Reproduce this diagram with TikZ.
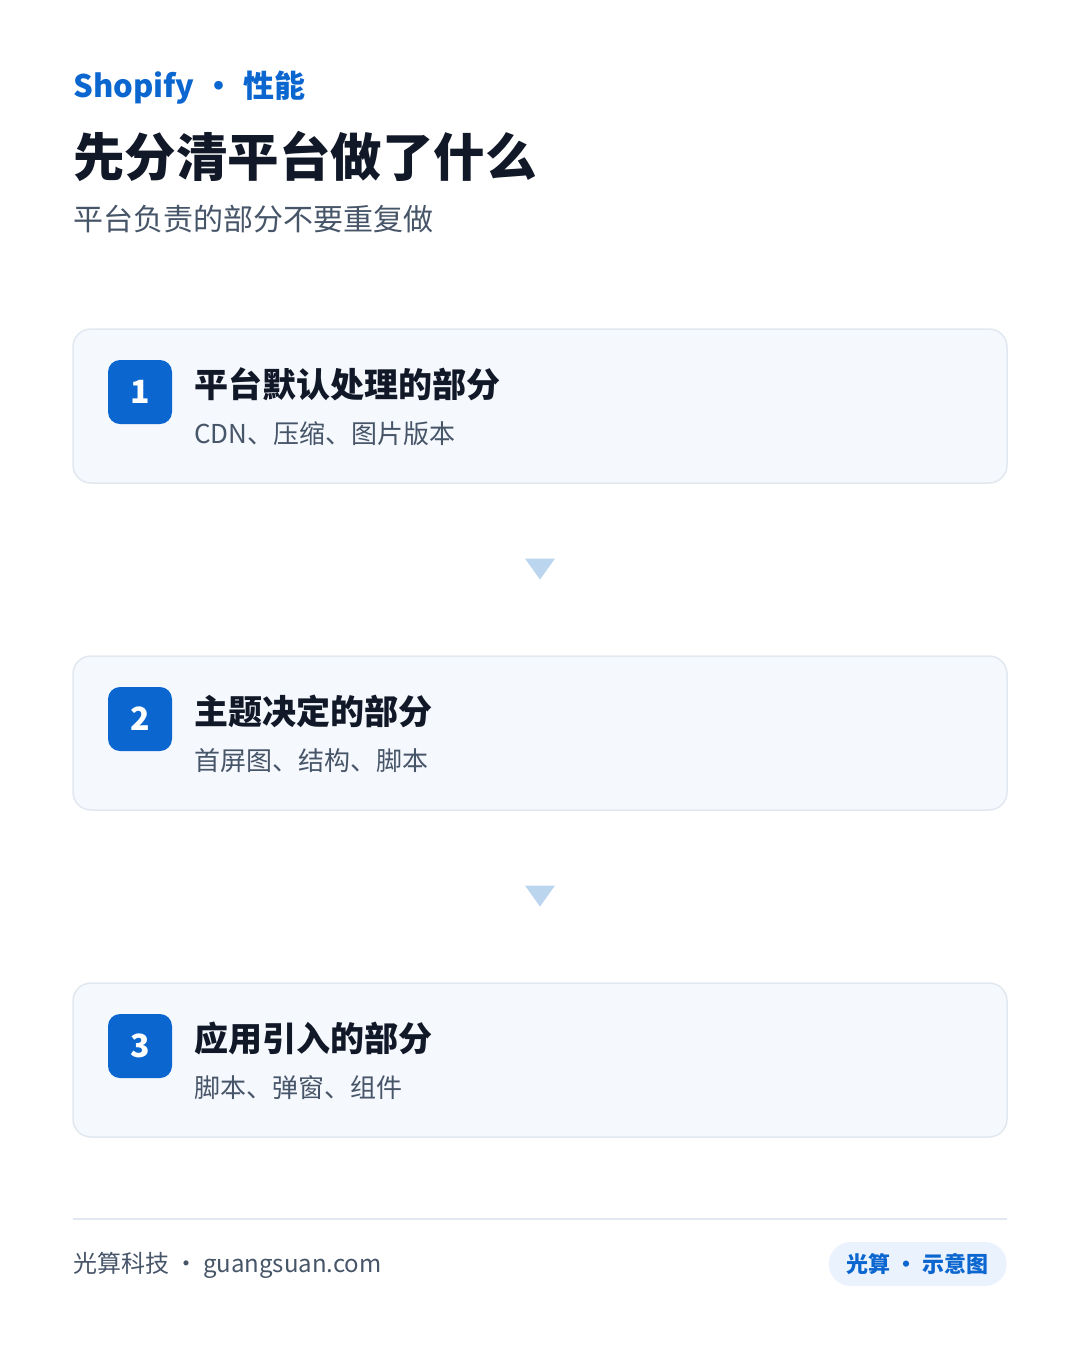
\documentclass[tikz,border=0pt]{standalone}
\usepackage{fontspec}
\setmainfont{Noto Sans CJK SC}
\usepackage{xcolor}
\usetikzlibrary{positioning}

\definecolor{brand}{HTML}{0B66CF}
\definecolor{ink}{HTML}{111827}
\definecolor{muted}{HTML}{475569}
\definecolor{cardbg}{HTML}{F5F8FD}
\definecolor{cardline}{HTML}{E2E8F0}
\definecolor{tri}{HTML}{BCD5EE}
\definecolor{pillbg}{HTML}{EAF2FD}

\newcommand{\fs}[1]{\fontsize{#1}{#1}\selectfont}

\begin{document}
\begin{tikzpicture}[x=1pt, y=-1pt,
    card/.style={draw=cardline, fill=cardbg, line width=1.5pt, rounded corners=18pt,
                 minimum width=934pt, minimum height=154pt, inner sep=0pt},
    badge/.style={fill=brand, rounded corners=12pt, minimum size=64pt, inner sep=0pt,
                  text=white, font=\fs{32}\bfseries},
    head/.style={anchor=west, inner sep=0pt, text=ink, font=\fs{34}\bfseries},
    sub/.style={anchor=west, inner sep=0pt, text=muted, font=\fs{26}},
    arrowtri/.style={fill=tri},
    pill/.style={fill=pillbg, rounded corners=22pt, minimum height=44pt,
                 inner xsep=18pt, inner ysep=0pt, text=brand, font=\fs{22}\bfseries}
]
    % Page
    \fill[white] (0,0) rectangle (1080,1350);
    \useasboundingbox (0,0) rectangle (1080,1350);

    % Header
    \node[anchor=west, inner sep=0pt, text=brand, font=\fs{31}\bfseries] (kicker) at (73,88)
        {Shopify\hspace{9pt}·\hspace{9pt}性能};
    \node[anchor=west, inner sep=0pt, text=ink, font=\fs{51.5}\bfseries] (title) at (73,156)
        {先分清平台做了什么};
    \node[anchor=west, inner sep=0pt, text=muted, font=\fs{30}] (subtitle) at (73,219)
        {平台负责的部分不要重复做};

    % Cards
    \foreach \n/\y/\h/\s in {1/329/平台默认处理的部分/CDN、压缩、图片版本,
                             2/656/主题决定的部分/首屏图、结构、脚本,
                             3/983/应用引入的部分/脚本、弹窗、组件}{
        \node[card] (card\n) at (540,\y+77) {};
        \node[badge] (badge\n) at (140,\y+63) {\raisebox{-2pt}{\n}};
        \node[head] (head\n) at (194,\y+55) {\h};
        \node[sub] (sub\n) at (194,\y+105) {\s};
    }

    % Arrows between cards
    \path (card1.south) -- (card2.north) coordinate[midway] (gap1);
    \path (card2.south) -- (card3.north) coordinate[midway] (gap2);
    \fill[arrowtri] (gap1) ++(-15,-11) -- ++(30,0) -- ++(-15,21) -- cycle;
    \fill[arrowtri] (gap2) ++(-15,-11) -- ++(30,0) -- ++(-15,21) -- cycle;

    % Footer
    \draw[cardline, line width=2pt] (73,1219) -- (1007,1219);
    \node[anchor=west, inner sep=0pt, text=muted, font=\fs{24}] (brandline) at (73,1265)
        {光算科技\hspace{5pt}·\hspace{5pt}guangsuan.com};
    \node[pill, anchor=east] (tag) at (1007,1264) {光算\hspace{5pt}·\hspace{5pt}示意图};
\end{tikzpicture}
\end{document}
